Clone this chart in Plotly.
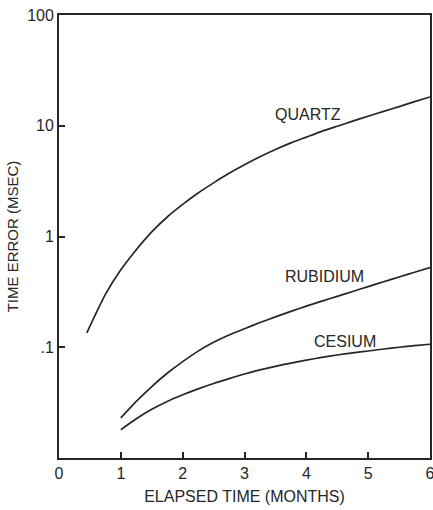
import plotly.graph_objects as go
import numpy as np

# Months elapsed and time error (msec)
quartz_x = [0.45, 0.75, 1.0, 1.25, 1.5, 1.75, 2.0, 2.25, 2.5, 2.75, 3.0, 3.25,
            3.5, 3.75, 4.0, 4.25, 4.5, 4.75, 5.0, 5.25, 5.5, 5.75, 6.0]
quartz_y = [0.135, 0.3, 0.5, 0.76, 1.1, 1.5, 1.95, 2.47, 3.05, 3.72, 4.45, 5.25,
            6.1, 7.0, 7.9, 8.9, 9.9, 11.0, 12.2, 13.5, 14.9, 16.5, 18.2]

rubidium_x = [1.0, 1.25, 1.5, 1.75, 2.0, 2.25, 2.5, 2.75, 3.0, 3.25, 3.5,
              3.75, 4.0, 4.25, 4.5, 4.75, 5.0, 5.25, 5.5, 5.75, 6.0]
rubidium_y = [0.023, 0.0324, 0.0442, 0.0582, 0.0741, 0.0923, 0.111, 0.129, 0.147, 0.167, 0.188,
              0.211, 0.235, 0.261, 0.288, 0.319, 0.353, 0.39, 0.431, 0.475, 0.525]

cesium_x = [1.0, 1.25, 1.5, 1.75, 2.0, 2.25, 2.5, 2.75, 3.0, 3.25, 3.5,
            3.75, 4.0, 4.25, 4.5, 4.75, 5.0, 5.25, 5.5, 5.75, 6.0]
cesium_y = [0.018, 0.0226, 0.0275, 0.0324, 0.0372, 0.0421, 0.0471, 0.0521, 0.0573, 0.0624, 0.0673,
            0.0719, 0.0766, 0.0809, 0.0851, 0.0889, 0.0925, 0.0964, 0.1, 0.1033, 0.1064]

# Curve labels
label_text = ["QUARTZ", "RUBIDIUM", "CESIUM"]
label_x = [4.02, 4.29, 4.63]
label_y = [12.8, 0.446, 0.116]

x_ticks = [0, 1, 2, 3, 4, 5, 6]
y_ticks = [0.1, 1, 10, 100]
y_ticktext = [".1", "1", "10", "100"]

ink = "#262626"

fig = go.Figure()
for xs, ys in [(quartz_x, quartz_y), (rubidium_x, rubidium_y), (cesium_x, cesium_y)]:
    fig.add_trace(go.Scatter(
        x=xs, y=ys, mode="lines",
        line=dict(color=ink, width=1.7, shape="spline", smoothing=0.6),
        showlegend=False, hoverinfo="skip"
    ))

for t, lx, ly in zip(label_text, label_x, label_y):
    fig.add_annotation(x=lx, y=np.log10(ly), text=t, showarrow=False,
                       yshift=-1, font=dict(size=16, color=ink))

fig.update_layout(
    width=433, height=510,
    margin=dict(l=59, r=3, t=15, b=52),
    plot_bgcolor="white", paper_bgcolor="white",
    font=dict(family="Liberation Sans, Arial, sans-serif", size=16, color=ink),
    xaxis=dict(
        range=[0, 6], tickvals=x_ticks, ticks="inside", ticklen=6,
        tickcolor=ink, tickwidth=1.5, showline=True, linecolor=ink, linewidth=1.8,
        mirror=True, showgrid=False, zeroline=False, automargin=False,
        ticklabeloverflow="allow",
        title=dict(text="ELAPSED TIME (MONTHS)", standoff=10, font=dict(size=16))
    ),
    yaxis=dict(
        type="log", range=[-2, 2], tickvals=y_ticks, ticktext=y_ticktext,
        ticks="inside", ticklen=6, tickcolor=ink, tickwidth=1.5,
        showline=True, linecolor=ink, linewidth=1.8, mirror=True,
        showgrid=False, zeroline=False, automargin=False,
        ticklabeloverflow="allow",
        title=dict(text="TIME ERROR (MSEC)", standoff=5, font=dict(size=15))
    )
)

# drop the page's default body margin so the figure sits at the window corner
fig.write_html("out.html", config={"displayModeBar": False},
               post_script="document.body.style.margin='0';")
